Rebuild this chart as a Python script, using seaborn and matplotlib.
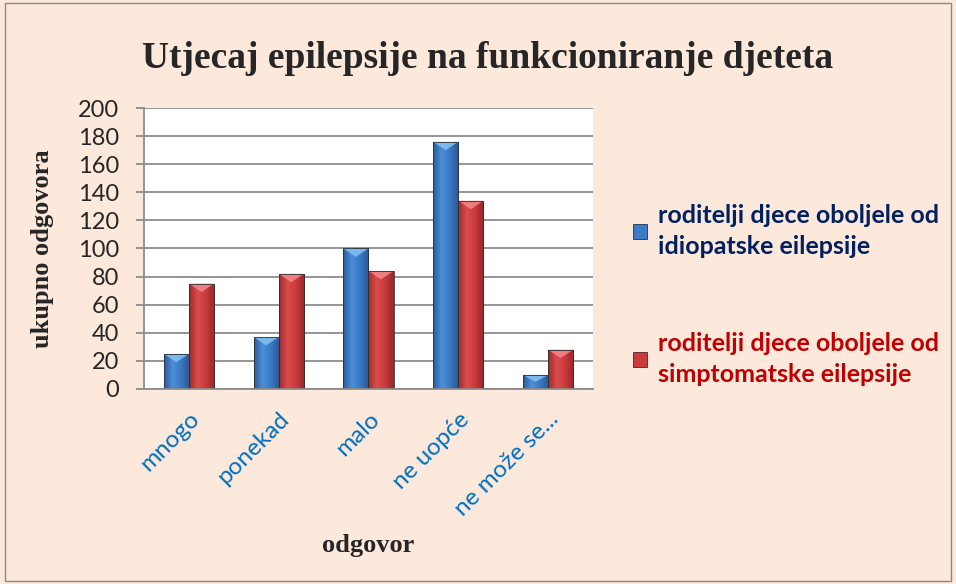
import pandas as pd
import numpy as np
import seaborn as sns
import matplotlib.pyplot as plt
from matplotlib.patches import Rectangle, Polygon
from matplotlib.colors import LinearSegmentedColormap, to_hex

# podaci
odgovori = ['mnogo', 'ponekad', 'malo', 'ne uopće', 'ne može se...']
idiopatska = [25, 37, 100, 176, 10]
simptomatska = [75, 82, 84, 134, 28]
serije = ['roditelji djece oboljele od\nidiopatske eilepsije',
          'roditelji djece oboljele od\nsimptomatske eilepsije']

df = pd.DataFrame({
    'odgovor': odgovori * 2,
    'broj': idiopatska + simptomatska,
    'skupina': [serije[0]] * len(odgovori) + [serije[1]] * len(odgovori),
})

bg = '#FCE9DC'
sns.set_style('white')
plt.rcParams['font.family'] = ['Lato', 'DejaVu Sans']

fig = plt.figure(figsize=(9.56, 5.84), dpi=100, facecolor=bg)
ax = fig.add_axes([0.1506, 0.334, 0.4697, 0.481])
ax.set_facecolor('white')

sns.barplot(data=df, x='odgovor', y='broj', hue='skupina',
            palette=['#3C7BC8', '#CC3B3D'], width=0.56, ax=ax,
            edgecolor='#303030', linewidth=0.6, saturation=1, legend=True)

# gradijent na stupcima (kao u Excelu)
xl, yl = ax.get_xlim(), (0, 200)
grad = {
    '#3c7bc8': LinearSegmentedColormap.from_list('b', ['#2B5C9C', '#4C8EDA', '#3A77C2', '#2A5894']),
    '#cc3b3d': LinearSegmentedColormap.from_list('r', ['#9E2A2C', '#DB4C4C', '#C83A3C', '#982628']),
}
tri = {'#3c7bc8': '#86C0F4', '#cc3b3d': '#F48A8A'}
g = np.linspace(0, 1, 64).reshape(1, -1)
for p in list(ax.patches):
    h = p.get_height()
    if not h or np.isnan(h):
        continue
    c = to_hex(p.get_facecolor())
    if c not in grad:
        continue
    x0, w = p.get_x(), p.get_width()
    im = ax.imshow(g, cmap=grad[c], extent=(x0, x0 + w, 0, h), aspect='auto',
                   origin='lower', zorder=p.get_zorder())
    im.set_clip_path(p)
    th = min(6, h * 0.5)
    ax.add_patch(Polygon([(x0, h), (x0 + w, h), (x0 + w / 2, h - th)],
                         closed=True, facecolor=tri[c], edgecolor='none',
                         alpha=0.85, zorder=p.get_zorder() + 0.1))
    p.set_facecolor('none')
    p.set_zorder(p.get_zorder() + 0.2)
ax.set_xlim(xl)

ax.set_ylim(yl)
ax.set_yticks(np.arange(0, 201, 20))
ax.yaxis.grid(True, color='#8c8c8c', linewidth=1.3)
ax.set_axisbelow(True)
for s in ['top', 'right']:
    ax.spines[s].set_visible(False)
ax.spines['left'].set_color('#8c8c8c')
ax.spines['bottom'].set_color('#8c8c8c')
ax.spines['left'].set_linewidth(1.3)
ax.spines['bottom'].set_linewidth(1.3)
ax.spines['bottom'].set_zorder(5)
ax.tick_params(axis='y', labelsize=17, length=6, width=1.3, color='#8c8c8c',
               left=True, pad=12)
ax.tick_params(axis='x', length=0, pad=14)
for lbl in ax.get_xticklabels():
    lbl.set_rotation(45)
    lbl.set_ha('right')
    lbl.set_rotation_mode('anchor')
    lbl.set_color('#0070C0')
    lbl.set_fontsize(17.5)

ax.set_xlabel('odgovor', fontsize=19, fontweight='bold',
              family='Liberation Serif', labelpad=10)
ax.set_ylabel('ukupno odgovora', fontsize=19, fontweight='bold',
              family='Liberation Serif', labelpad=17)

fig.text(0.51, 0.9, 'Utjecaj epilepsije na funkcioniranje djeteta',
         ha='center', va='center', fontsize=27, fontweight='bold',
         family='Liberation Serif')

handles = [Rectangle((0, 0), 1, 1, facecolor='#3C7BC8', edgecolor='#203050', linewidth=0.6),
           Rectangle((0, 0), 1, 1, facecolor='#C83A3C', edgecolor='#502020', linewidth=0.6)]
leg = ax.legend(handles, serije, loc='upper left', bbox_to_anchor=(0.639, 0.69),
                bbox_transform=fig.transFigure, frameon=False,
                labelcolor=['#002060', '#C00000'],
                prop={'family': 'Lato', 'weight': 'bold', 'size': 18},
                handlelength=0.55, handleheight=0.55, handletextpad=0.45,
                labelspacing=2.95)
for t in leg.get_texts():
    t.set_linespacing(1.45)

fig.patches.append(Rectangle((0.005, 0.005), 0.99, 0.99, transform=fig.transFigure,
                             fill=False, edgecolor='#888888', linewidth=1))

fig.savefig('out.png', dpi=100, facecolor=bg)
